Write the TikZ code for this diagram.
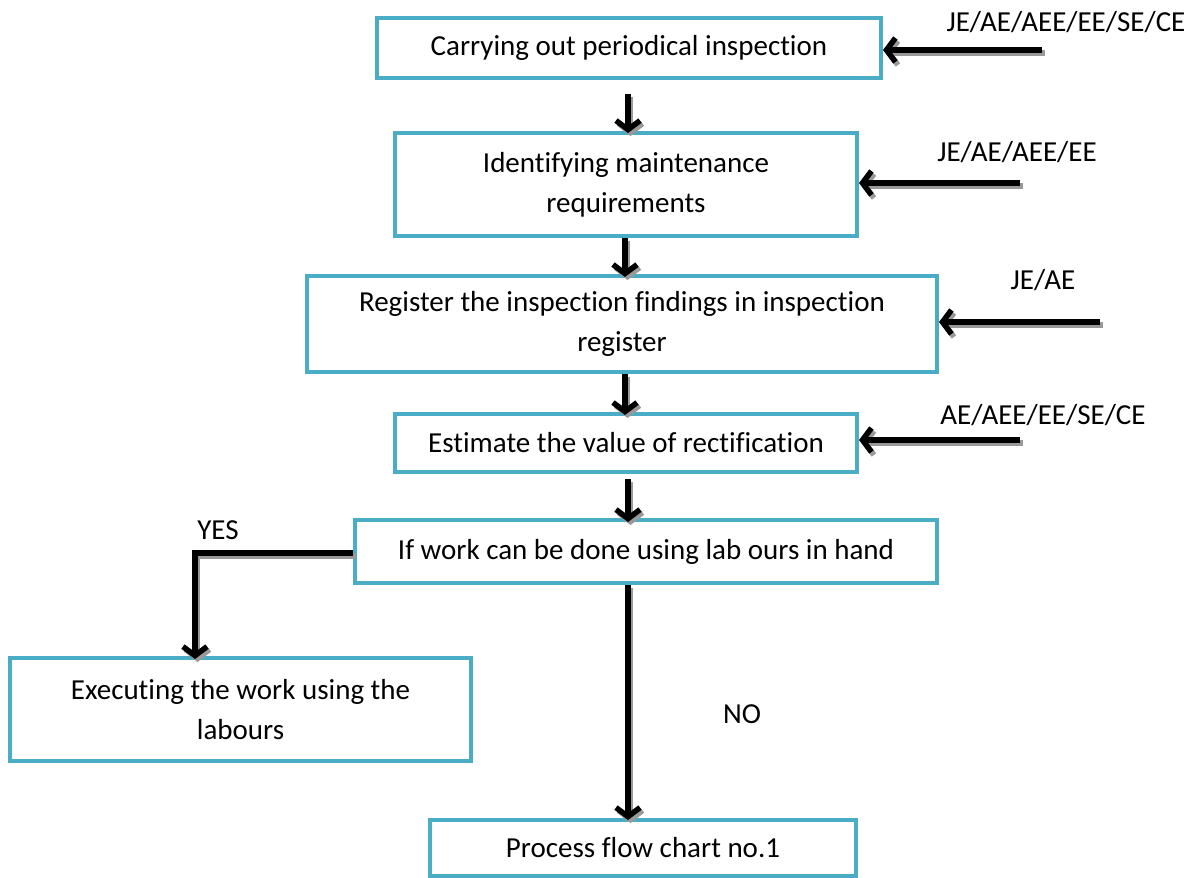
\documentclass[tikz,border=0pt]{standalone}
\usepackage{fontspec}
\setmainfont[Ligatures=NoCommon]{Carlito}
\usetikzlibrary{arrows.meta}
\definecolor{boxblue}{HTML}{4BACC6}
% draws a connector with a soft grey drop shadow beneath it
\newcommand\flowline[1]{%
  \begin{scope}[transform canvas={xshift=2.5pt,yshift=-3pt}]
    \draw[conn, draw=black!40] #1;
  \end{scope}
  \draw[conn] #1;}
\begin{document}
\begin{tikzpicture}[x=1pt,y=-1pt,
  box/.style={draw=boxblue, line width=4pt, fill=white, align=center,
    inner sep=0pt, font=\fontsize{29}{40}\selectfont},
  lbl/.style={font=\fontsize{29}{40}\selectfont, inner sep=0pt},
  conn/.style={line width=5.5pt, -{Straight Barb[length=9pt,width=24pt]}}]
\useasboundingbox (0,0) rectangle (1195,878);

% process boxes
\node[box, minimum width=504, minimum height=60] (b1) at (629,48)
  {Carrying out periodical inspection};
\node[box, minimum width=462, minimum height=103] (b2) at (626,184.5)
  {Identifying maintenance\\requirements};
\node[box, minimum width=630, minimum height=96] (b3) at (622,324)
  {Register the inspection findings in inspection\\register};
\node[box, minimum width=462, minimum height=58] (b4) at (626,443)
  {Estimate the value of rectification};
\node[box, minimum width=582, minimum height=63] (b5) at (646,551.5)
  {If work can be done using lab ours in hand};
\node[box, minimum width=461, minimum height=103] (b6) at (240.5,709.5)
  {Executing the work using the\\labours};
\node[box, minimum width=426, minimum height=56] (b7) at (643,848)
  {Process flow chart no.1};

% x positions of the vertical connectors
\coordinate (xa) at (628,0);
\coordinate (xb) at (625,0);
\coordinate (xc) at (195,0);

% main flow
\flowline{([yshift=-14pt]b1.south -| xa) -- ([yshift=-2pt]b2.north -| xa)}
\flowline{(b2.south -| xb) -- ([yshift=-3pt]b3.north -| xb)}
\flowline{(b3.south -| xb) -- ([yshift=-3pt]b4.north -| xb)}
\flowline{([yshift=-5pt]b4.south -| xa) -- ([yshift=-4pt]b5.north -| xa)}
\flowline{(b5.south -| xa) -- ([yshift=-2pt]b7.north -| xa)}
\flowline{([yshift=-1.5pt]b5.west) -| ([yshift=-3pt]b6.north -| xc)}

% responsible officers
\coordinate (s1) at (1042,50);
\coordinate (s2) at (1020,183);
\coordinate (s3) at (1100,322);
\coordinate (s4) at (1020,440);
\flowline{(s1) -- (b1.east |- s1)}
\flowline{(s2) -- (b2.east |- s2)}
\flowline{(s3) -- (b3.east |- s3)}
\flowline{(s4) -- (b4.east |- s4)}

\node[lbl] (l1) at (1066,22) {JE/AE/AEE/EE/SE/CE};
\node[lbl] (l2) at (1017,152) {JE/AE/AEE/EE};
\node[lbl] (l3) at (1043,280) {JE/AE};
\node[lbl] (l4) at (1043,415) {AE/AEE/EE/SE/CE};
\node[lbl] (yes) at (218,530) {YES};
\node[lbl] (no) at (742,714) {NO};
\end{tikzpicture}
\end{document}
